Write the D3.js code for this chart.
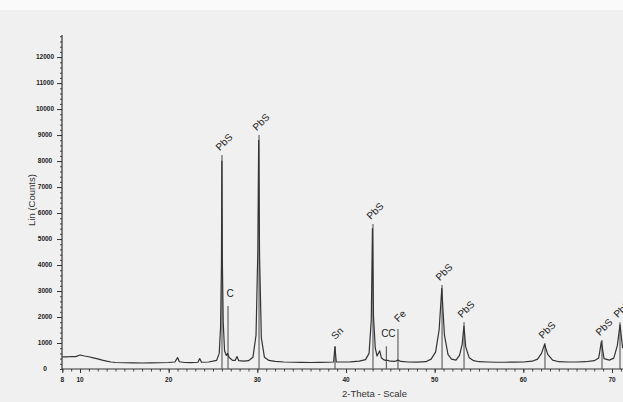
<!DOCTYPE html>
<html>
<head>
<meta charset="utf-8">
<script src="https://cdn.jsdelivr.net/npm/d3@7"></script>
<style>
  body { margin: 0; background: #f0f0f0; }
  svg { display: block; font-family: "Liberation Sans", Arial, sans-serif; }
</style>
</head>
<body>
<svg id="chart" width="623" height="402"></svg>
<script>
// scan (2-theta in degrees, Lin counts)
var scanAngles = [8.0, 8.5, 9.0, 9.5, 10.0, 10.5, 11.0, 11.5, 12.0, 12.5, 13.0, 13.5, 14.0, 15.0, 16.0, 17.0, 18.0, 19.0, 20.0, 20.7, 21.0, 21.2, 21.8, 22.5, 23.3, 23.5, 23.7, 24.5, 25.0, 25.4, 25.7, 25.85, 25.95, 26.0, 26.05, 26.15, 26.3, 26.5, 26.65, 26.8, 27.2, 27.5, 27.7, 27.9, 28.5, 29.0, 29.5, 29.85, 30.05, 30.15, 30.25, 30.45, 30.8, 31.3, 32.0, 33.0, 34.0, 35.0, 36.0, 37.0, 38.0, 38.6, 38.75, 38.9, 39.5, 40.5, 41.5, 42.2, 42.6, 42.85, 42.98, 43.1, 43.3, 43.5, 43.8, 44.0, 44.3, 44.5, 44.7, 45.0, 45.5, 45.85, 46.2, 47.0, 48.0, 49.0, 49.6, 50.1, 50.5, 50.8, 51.1, 51.5, 51.9, 52.4, 52.8, 53.1, 53.3, 53.5, 53.9, 54.4, 55.0, 56.0, 57.0, 58.0, 59.0, 60.0, 61.0, 61.6, 62.05, 62.4, 62.75, 63.3, 64.0, 65.0, 66.0, 67.0, 68.0, 68.5, 68.8, 69.1, 69.7, 70.2, 70.6, 70.9, 71.2];
var scanCounts = [470, 470, 480, 475, 540, 500, 470, 430, 390, 340, 300, 270, 250, 240, 235, 230, 235, 240, 250, 270, 440, 280, 250, 245, 260, 400, 260, 270, 300, 330, 600, 1600, 4000, 8000, 4200, 1800, 700, 520, 600, 450, 330, 330, 480, 320, 300, 320, 450, 1300, 4500, 8800, 4300, 1200, 450, 330, 290, 270, 260, 255, 250, 255, 260, 270, 850, 270, 270, 275, 300, 360, 600, 1900, 5400, 2000, 800, 500, 700, 420, 350, 330, 330, 300, 290, 340, 290, 270, 265, 280, 380, 650, 1500, 3100, 1300, 560, 380, 340, 520, 950, 1650, 850, 430, 320, 280, 270, 260, 260, 265, 270, 300, 380, 600, 950, 560, 340, 280, 270, 270, 280, 320, 420, 1050, 400, 340, 420, 900, 1700, 800];

// phase marker sticks
var phaseLabels = ["PbS", "C", "PbS", "Sn", "PbS", "CC", "Fe", "PbS", "PbS", "PbS", "PbS", "PbS"];
var phaseAngles = [26.01, 26.69, 30.19, 38.76, 43.04, 44.55, 45.86, 50.83, 53.31, 62.44, 68.87, 70.9];
var phaseHeights = [8230, 2420, 9000, 880, 5580, 880, 1540, 3230, 1800, 1000, 1115, 1800];

var xTickValues = [8, 10, 20, 30, 40, 50, 60, 70];
var yTickValues = [0, 1000, 2000, 3000, 4000, 5000, 6000, 7000, 8000, 9000, 10000, 11000, 12000];

var svg = d3.select("#chart");

// white strip at the very top of the scan
svg.append("rect").attr("x", 0).attr("y", 0).attr("width", 623).attr("height", 10).attr("fill", "#fafafa");

var x = d3.scaleLinear().domain([8, 71.24]).range([62.3, 623]);
var y = d3.scaleLinear().domain([0, 12850]).range([369, 35]);

// y axis: minor ticks every 200, labels every 1000
var yMinor = d3.range(0, 12801, 200);
svg.append("g")
    .attr("transform", "translate(62,0)")
    .call(d3.axisLeft(y).tickValues(yMinor).tickSize(2).tickFormat(""))
    .call(g => g.select(".domain").remove())
    .selectAll("line").attr("stroke", "#444");
svg.append("g")
    .attr("transform", "translate(62,0)")
    .call(d3.axisLeft(y).tickValues(yTickValues.slice(1)).tickSize(5).tickFormat(""))
    .call(g => g.select(".domain").remove())
    .selectAll("line").attr("stroke", "#333");
svg.append("line")
    .attr("x1", 62).attr("x2", 62).attr("y1", y(0)).attr("y2", y(12850))
    .attr("stroke", "#333").attr("stroke-width", 1.2);
svg.append("g").selectAll("text")
    .data(yTickValues)
    .join("text")
    .attr("x", 45)
    .attr("y", d => y(d) + 2.3)
    .attr("text-anchor", "middle")
    .attr("font-size", 6.5)
    .attr("font-weight", "bold")
    .attr("fill", "#222")
    .text(d => d);

// x axis: minor ticks every degree
var xMinor = d3.range(8, 72, 1);
svg.append("g")
    .attr("transform", "translate(0,369)")
    .call(d3.axisBottom(x).tickValues(xMinor).tickSize(2.5).tickFormat(""))
    .call(g => g.select(".domain").remove())
    .selectAll("line").attr("stroke", "#444");
svg.append("g")
    .attr("transform", "translate(0,369)")
    .call(d3.axisBottom(x).tickValues(xTickValues).tickSize(4).tickFormat(""))
    .call(g => g.select(".domain").remove())
    .selectAll("line").attr("stroke", "#333");
svg.append("line")
    .attr("x1", 62).attr("x2", 623).attr("y1", 369).attr("y2", 369)
    .attr("stroke", "#333").attr("stroke-width", 1.2);
svg.append("g").selectAll("text")
    .data(xTickValues)
    .join("text")
    .attr("x", d => x(d))
    .attr("y", 382)
    .attr("text-anchor", "middle")
    .attr("font-size", 6.5)
    .attr("font-weight", "bold")
    .attr("fill", "#222")
    .text(d => d);

// axis titles
svg.append("text")
    .attr("transform", "translate(35,200) rotate(-90)")
    .attr("text-anchor", "middle")
    .attr("font-size", 9.5)
    .attr("fill", "#333")
    .text("Lin (Counts)");
svg.append("text")
    .attr("x", 342).attr("y", 397)
    .attr("font-size", 9.5)
    .attr("fill", "#333")
    .text("2-Theta - Scale");

// sticks
var sticks = phaseAngles.map((a, i) => ({label: phaseLabels[i], angle: a, h: phaseHeights[i]}));
svg.append("g").selectAll("line")
    .data(sticks)
    .join("line")
    .attr("x1", d => x(d.angle)).attr("x2", d => x(d.angle))
    .attr("y1", y(0)).attr("y2", d => y(d.h))
    .attr("stroke", "#555").attr("stroke-width", 1.1);

// the scan
var line = d3.line().x((d, i) => x(scanAngles[i])).y(d => y(d));
svg.append("path")
    .datum(scanCounts)
    .attr("d", line)
    .attr("fill", "none")
    .attr("stroke", "#333")
    .attr("stroke-width", 1.2)
    .attr("stroke-linejoin", "round");

// phase labels
svg.append("g").selectAll("text")
    .data(sticks)
    .join("text")
    .attr("transform", d => {
        var r = (d.label === "C" || d.label === "CC") ? 0 : -45;
        return "translate(" + (x(d.angle) + 2) + "," + (y(d.h) - 13) + ") rotate(" + r + ")";
    })
    .attr("text-anchor", "middle")
    .attr("dy", "0.35em")
    .attr("font-size", 10)
    .attr("fill", "#222")
    .text(d => d.label);
</script>
</body>
</html>
